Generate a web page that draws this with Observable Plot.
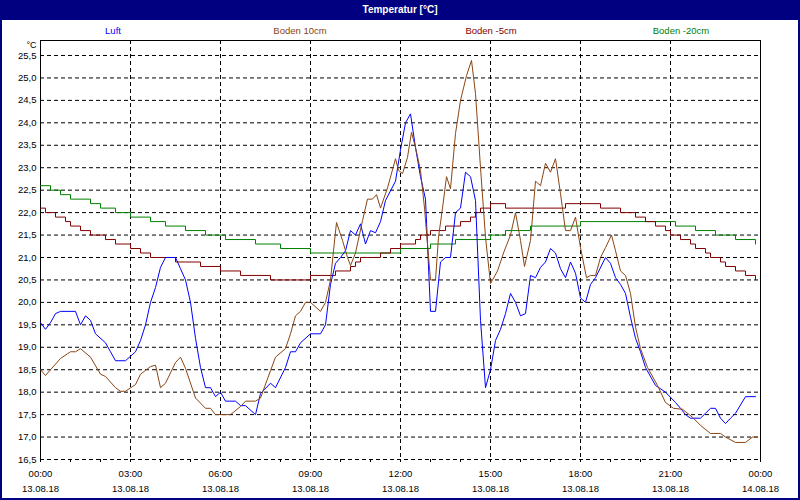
<!DOCTYPE html>
<html><head><meta charset="utf-8">
<script src="https://cdn.jsdelivr.net/npm/d3@7"></script>
<script src="https://cdn.jsdelivr.net/npm/@observablehq/plot@0.6"></script>
<style>
html,body{margin:0;padding:0;background:#fff;}
#page{position:relative;width:800px;height:500px;overflow:hidden;background:#fff;font-family:"Liberation Sans",Arial,sans-serif;}
#title{position:absolute;left:0;top:0;width:800px;height:20px;background:#000080;color:#fff;font-weight:bold;font-size:10px;text-align:center;line-height:20px;}
#border{position:absolute;left:0;top:0;width:800px;height:500px;box-sizing:border-box;border:2px solid #000080;pointer-events:none;}
.leg{position:absolute;top:25px;font-size:9.5px;transform:translateX(-50%);white-space:nowrap;}
#chart{position:absolute;left:0;top:20px;}
</style></head>
<body>
<div id="page">
  <div id="title">Temperatur [°C]</div>
  <div id="legend"></div>
  <div id="chart"></div>
  <div id="border"></div>
</div>
<script>
// ---- data (minutes since 00:00 on 13.08.18) ----
const seriesNames = ["Luft", "Boden 10cm", "Boden -5cm", "Boden -20cm"];
const seriesColors = ["#0000ff", "#8b4513", "#800000", "#008000"];

const luftMin = [0,10,20,30,40,70,80,90,100,110,130,140,150,170,190,200,210,220,230,240,250,270,280,290,300,310,320,330,340,350,360,370,390,400,410,430,440,460,470,490,500,510,520,540,560,570,580,590,600,610,620,630,640,650,660,670,680,690,710,720,730,740,750,760,770,780,790,800,810,820,830,840,850,860,870,880,890,900,910,920,930,940,950,960,970,980,990,1000,1010,1020,1030,1040,1050,1060,1070,1080,1090,1100,1110,1130,1140,1150,1160,1170,1180,1190,1200,1210,1230,1250,1270,1280,1290,1300,1320,1330,1340,1350,1360,1370,1380,1390,1410,1430];
const luftTemp = [19.55,19.4,19.55,19.75,19.8,19.8,19.5,19.7,19.6,19.3,19.1,18.9,18.7,18.7,18.9,19.15,19.5,20.0,20.33,20.78,21.0,21.0,20.75,20.5,20.0,19.2,18.55,18.1,18.1,17.9,18.0,17.8,17.8,17.7,17.7,17.5,17.97,18.2,18.1,18.55,18.9,18.9,19.1,19.3,19.3,19.5,20.4,20.87,21.0,21.15,21.6,21.5,21.75,21.3,21.6,21.55,21.8,22.27,22.7,23.4,24.0,24.2,23.45,22.8,22.3,19.8,19.8,20.9,21.0,21.0,22.0,22.1,22.9,22.8,22.27,19.6,18.1,18.5,19.15,19.4,19.75,20.2,20.0,19.7,19.75,20.6,20.55,20.78,20.9,21.2,21.1,20.75,20.55,20.9,20.65,20.1,20.0,20.4,20.55,21.0,20.87,20.55,20.4,20.2,19.67,19.2,18.9,18.55,18.15,18.0,17.77,17.64,17.5,17.42,17.42,17.53,17.64,17.64,17.42,17.3,17.42,17.53,17.9,17.9];

const boden10Min = [0,10,20,40,60,70,80,100,120,130,150,160,170,190,200,220,230,240,250,270,280,290,310,330,340,350,380,400,410,430,440,460,470,490,500,510,520,530,540,560,570,580,586,592,604,614,620,630,644,654,664,672,680,694,710,716,724,734,742,750,760,768,774,780,790,796,804,812,820,830,840,852,862,870,880,890,900,914,926,940,950,960,968,980,990,1000,1010,1020,1030,1040,1050,1060,1070,1080,1092,1100,1110,1120,1130,1142,1150,1160,1170,1180,1190,1200,1214,1234,1250,1266,1284,1304,1320,1340,1360,1370,1390,1410,1424,1434];
const boden10Temp = [18.5,18.37,18.5,18.75,18.9,18.9,18.97,18.78,18.4,18.35,18.1,18.02,18.02,18.17,18.4,18.57,18.6,18.1,18.2,18.66,18.78,18.53,17.87,17.64,17.64,17.5,17.5,17.68,17.8,17.8,17.87,18.48,18.78,18.97,19.3,19.7,19.8,20.0,20.0,19.8,20.0,20.5,21.15,21.78,21.38,21.0,20.82,21.1,21.82,22.3,22.3,22.4,22.1,22.55,23.2,22.94,22.87,23.23,23.79,23.45,22.94,22.1,21.3,20.5,20.5,21.45,22.1,22.8,22.53,23.76,24.5,25.05,25.39,24.65,23.0,21.45,20.42,20.7,21.1,21.5,22.0,21.38,20.8,21.38,22.7,22.6,23.1,22.9,23.2,22.42,21.6,21.6,21.9,21.22,20.55,20.6,20.6,21.0,21.22,21.5,21.15,20.7,20.6,20.2,19.45,18.97,18.55,18.15,17.77,17.64,17.62,17.44,17.26,17.08,17.08,17.0,16.88,16.88,17.0,17.0];

// step series: value holds from each change point onward
const boden5Min = [0,10,30,50,60,80,100,130,150,180,200,220,270,320,360,400,460,540,590,620,630,640,680,700,720,750,760,780,810,840,860,870,880,900,930,1050,1120,1160,1190,1210,1230,1250,1260,1280,1300,1310,1330,1340,1360,1370,1390,1410,1430];
const boden5Temp = [22.1,22.0,21.9,21.8,21.7,21.6,21.5,21.4,21.3,21.2,21.1,21.0,20.9,20.8,20.7,20.6,20.5,20.6,20.7,20.8,20.9,21.0,21.1,21.2,21.3,21.4,21.5,21.6,21.7,21.8,21.9,22.0,22.1,22.2,22.1,22.2,22.1,22.0,21.9,21.8,21.7,21.6,21.5,21.4,21.3,21.2,21.1,21.0,20.9,20.8,20.7,20.6,20.5];

const boden20Min = [0,20,40,60,100,120,150,180,220,250,290,330,370,430,480,540,720,780,830,900,930,980,1080,1270,1310,1350,1390,1430];
const boden20Temp = [22.6,22.5,22.4,22.3,22.2,22.1,22.0,21.9,21.8,21.7,21.6,21.5,21.4,21.3,21.2,21.1,21.2,21.3,21.4,21.5,21.6,21.7,21.8,21.7,21.6,21.5,21.4,21.3];

const dayRange = [0, 1440];
const yRange = [16.5, 25.834];
const yTicks = [16.5,17.0,17.5,18.0,18.5,19.0,19.5,20.0,20.5,21.0,21.5,22.0,22.5,23.0,23.5,24.0,24.5,25.0,25.5];
const labelTicks = [0,180,360,540,720,900,1080,1260,1440];
const timeLabels = ["00:00","03:00","06:00","09:00","12:00","15:00","18:00","21:00","00:00"];
const dateLabels = ["13.08.18","13.08.18","13.08.18","13.08.18","13.08.18","13.08.18","13.08.18","13.08.18","14.08.18"];
const hourTicks = d3.range(0, 1441, 60);
const gridHours = [180,360,540,720,900,1080,1260];
const legendCenters = [113, 300, 491, 681];

// ---- legend ----
const leg = document.getElementById("legend");
seriesNames.forEach((n, i) => {
  const d = document.createElement("div");
  d.className = "leg";
  d.style.left = legendCenters[i] + "px";
  d.style.color = seriesColors[i];
  d.textContent = n;
  leg.appendChild(d);
});

const rows = (mins, temps) => mins.map((m, i) => ({t: m, v: temps[i]}));
const fmt = v => v.toFixed(1).replace(".", ",");
const dash = {stroke: "black", strokeOpacity: 1, strokeDasharray: "4,3", strokeWidth: 1};

const chart = Plot.plot({
  width: 800, height: 480,
  marginTop: 20, marginBottom: 41, marginLeft: 40, marginRight: 40,
  style: {fontFamily: '"Liberation Sans", Arial, sans-serif', fontSize: "9.5px", background: "transparent", color: "black"},
  x: {domain: dayRange},
  y: {domain: yRange},
  marks: [
    Plot.gridY(yTicks, dash),
    Plot.gridX(gridHours, dash),
    Plot.ruleX(dayRange, {stroke: "black"}),
    Plot.ruleY([yRange[1]], {stroke: "black"}),
    Plot.line(rows(boden20Min, boden20Temp), {x: "t", y: "v", stroke: seriesColors[3], strokeWidth: 1, curve: "step-after"}),
    Plot.line(rows(boden5Min, boden5Temp), {x: "t", y: "v", stroke: seriesColors[2], strokeWidth: 1, curve: "step-after"}),
    Plot.line(rows(luftMin, luftTemp), {x: "t", y: "v", stroke: seriesColors[0], strokeWidth: 1}),
    Plot.line(rows(boden10Min, boden10Temp), {x: "t", y: "v", stroke: seriesColors[1], strokeWidth: 1}),
    Plot.axisY(yTicks, {tickSize: 0, tickPadding: 4, tickFormat: fmt, label: null}),
    Plot.text(["°C"], {frameAnchor: "top-left", text: d => d, textAnchor: "end", dx: -4, dy: 1, fontSize: 9}),
    Plot.axisX(hourTicks, {tickSize: 3, tickFormat: () => "", label: null}),
    Plot.axisX(labelTicks, {tickSize: 0, tickPadding: 11, tickFormat: d => timeLabels[labelTicks.indexOf(d)], label: null}),
    Plot.axisX(labelTicks, {tickSize: 0, tickPadding: 26, tickFormat: d => dateLabels[labelTicks.indexOf(d)], label: null})
  ]
});
document.getElementById("chart").appendChild(chart);
</script>
</body></html>
